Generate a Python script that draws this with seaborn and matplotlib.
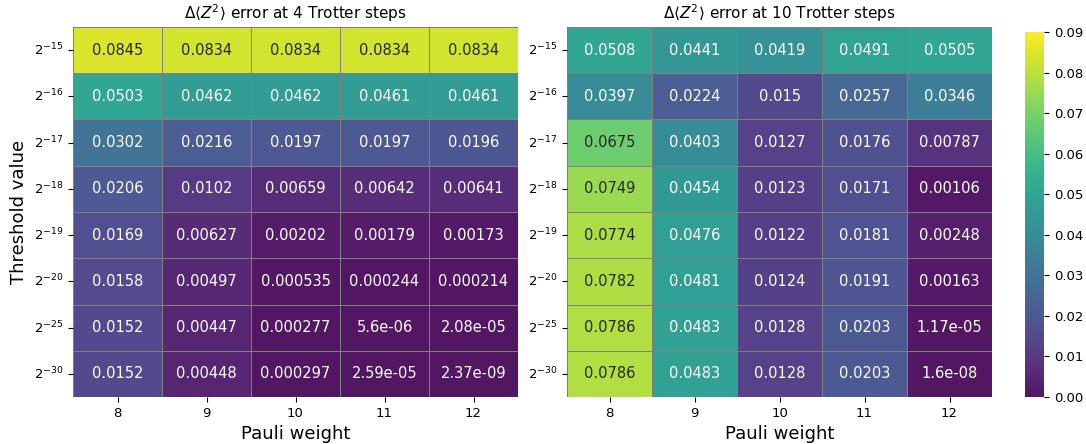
import numpy as np
import pandas as pd
import matplotlib
matplotlib.use("Agg")
import matplotlib.pyplot as plt
from matplotlib.colors import ListedColormap
import seaborn as sns

pauli_weights = [8, 9, 10, 11, 12]
threshold_labels = [r"$2^{-15}$", r"$2^{-16}$", r"$2^{-17}$", r"$2^{-18}$",
                    r"$2^{-19}$", r"$2^{-20}$", r"$2^{-25}$", r"$2^{-30}$"]

# rows: thresholds, columns: Pauli weight
err_4_steps = [
    [0.0845, 0.0834, 0.0834, 0.0834, 0.0834],
    [0.0503, 0.0462, 0.0462, 0.0461, 0.0461],
    [0.0302, 0.0216, 0.0197, 0.0197, 0.0196],
    [0.0206, 0.0102, 0.00659, 0.00642, 0.00641],
    [0.0169, 0.00627, 0.00202, 0.00179, 0.00173],
    [0.0158, 0.00497, 0.000535, 0.000244, 0.000214],
    [0.0152, 0.00447, 0.000277, 5.6e-06, 2.08e-05],
    [0.0152, 0.00448, 0.000297, 2.59e-05, 2.37e-09],
]
err_10_steps = [
    [0.0508, 0.0441, 0.0419, 0.0491, 0.0505],
    [0.0397, 0.0224, 0.015, 0.0257, 0.0346],
    [0.0675, 0.0403, 0.0127, 0.0176, 0.00787],
    [0.0749, 0.0454, 0.0123, 0.0171, 0.00106],
    [0.0774, 0.0476, 0.0122, 0.0181, 0.00248],
    [0.0782, 0.0481, 0.0124, 0.0191, 0.00163],
    [0.0786, 0.0483, 0.0128, 0.0203, 1.17e-05],
    [0.0786, 0.0483, 0.0128, 0.0203, 1.6e-08],
]

# viridis, slightly softened toward white
base = plt.get_cmap("viridis")(np.linspace(0, 1, 256))[:, :3]
soft = 0.92 * base + 0.08 * np.ones_like(base)
soft_viridis = ListedColormap(soft, name="soft_viridis")

W, H = 1086, 444
fig = plt.figure(figsize=(W / 100, H / 100), dpi=100)

def box(x0, y0, x1, y1):
    return [x0 / W, 1 - y1 / H, (x1 - x0) / W, (y1 - y0) / H]

ax_left = fig.add_axes(box(73, 27, 518, 397))
ax_right = fig.add_axes(box(567, 27, 992, 397))
cax = fig.add_axes(box(1025, 32, 1044, 397))

common = dict(cmap=soft_viridis, vmin=0, vmax=0.09, annot=True, fmt=".3g",
              linewidths=0.7, linecolor="gray",
              annot_kws={"size": 10.5})

df4 = pd.DataFrame(err_4_steps, index=threshold_labels, columns=pauli_weights)
df10 = pd.DataFrame(err_10_steps, index=threshold_labels, columns=pauli_weights)

sns.heatmap(df4, ax=ax_left, cbar=False, **common)
sns.heatmap(df10, ax=ax_right, cbar=True, cbar_ax=cax, **common)

for ax, steps in [(ax_left, 4), (ax_right, 10)]:
    ax.set_title(r"$\Delta\langle Z^2\rangle$ error at %d Trotter steps" % steps, fontsize=11)
    ax.set_xlabel("Pauli weight", fontsize=13)
    ax.tick_params(axis="both", labelsize=9.5)
    ax.set_yticklabels(threshold_labels, rotation=0)
ax_left.set_ylabel("Threshold value", fontsize=13)
ax_right.set_ylabel("")

cax.tick_params(labelsize=9.5)
cax.set_yticks(np.arange(0, 0.091, 0.01))
cax.set_yticklabels([f"{v:.2f}" for v in np.arange(0, 0.091, 0.01)])

fig.savefig("out.png", dpi=100)
